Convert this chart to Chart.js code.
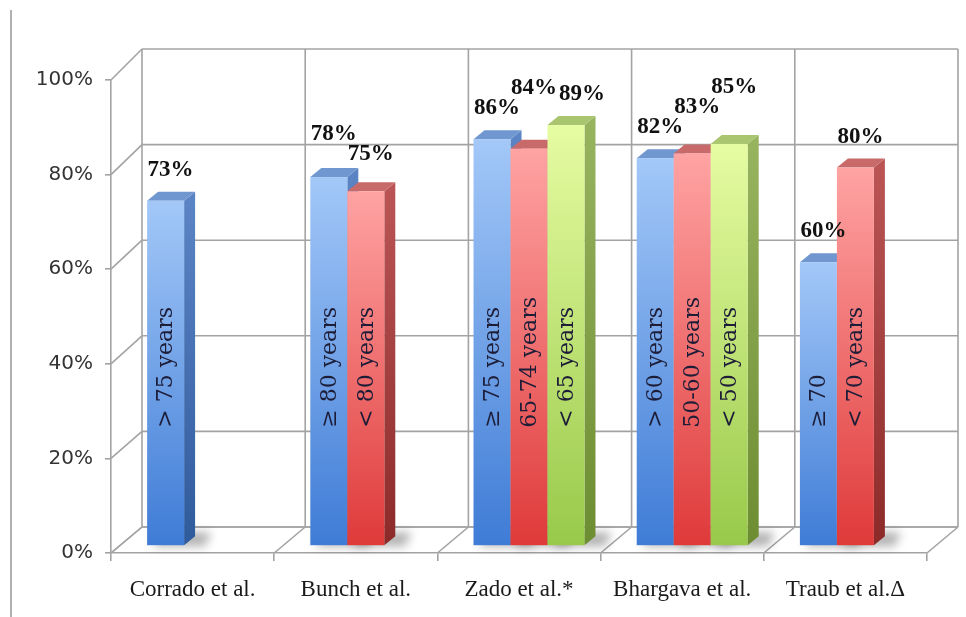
<!DOCTYPE html>
<html>
<head>
<meta charset="utf-8">
<script src="https://cdn.jsdelivr.net/npm/chart.js@4"></script>
<style>
  body { margin: 0; background: #fff; }
  #wrap { width: 966px; height: 617px; }
</style>
</head>
<body>
<div id="wrap"><canvas id="ageChart" width="966" height="617"></canvas></div>
<script>
const categories = ['Corrado et al.', 'Bunch et al.', 'Zado et al.*', 'Bhargava et al.', 'Traub et al.Δ'];
const oldestGroup = [73, 78, 86, 82, 60];
const middleGroup = [null, 75, 84, 83, 80];
const youngestGroup = [null, null, 89, 85, null];
const oldestLabels = ['> 75 years', '≥ 80 years', '≥ 75 years', '> 60 years', '≥ 70'];
const middleLabels = [null, '< 80 years', '65-74 years', '50-60 years', '< 70 years'];
const youngestLabels = [null, null, '< 65 years', '< 50 years', null];
const yTicks = [0, 20, 40, 60, 80, 100];

const barLabels = [oldestLabels, middleLabels, youngestLabels];

// face colours: [front top, front bottom, side top, side bottom, top face]
const palette = [
  ['#a3c8f8', '#3f7cd6', '#5a84c4', '#2f5a9c', '#7197d0'],
  ['#ffa3a3', '#df3a3a', '#bb5555', '#8c2a2a', '#c96a6a'],
  ['#e6fca2', '#98c94a', '#97b35e', '#6d8d32', '#aac56f']
];

const GRID = '#a3a3a3';
const BAR_DX = 10, BAR_DY = -7;   // bars sit a bit behind the front plane
const SIDE_DX = 11, SIDE_DY = 9;  // depth of each bar

// point on the back wall for a point on the front plane
function toBack(area, x, y) {
  return { x: x + 31, y: y - 26 - (area.bottom - y) * 0.0106 };
}

function line(ctx, a, b) {
  ctx.beginPath();
  ctx.moveTo(a.x, a.y);
  ctx.lineTo(b.x, b.y);
  ctx.stroke();
}

function poly(ctx, pts, fill) {
  ctx.beginPath();
  ctx.moveTo(pts[0][0], pts[0][1]);
  for (let i = 1; i < pts.length; i++) ctx.lineTo(pts[i][0], pts[i][1]);
  ctx.closePath();
  ctx.fillStyle = fill;
  ctx.fill();
}

const box3d = {
  id: 'box3d',
  beforeDraw(chart) {
    const ctx = chart.ctx;
    ctx.save();
    ctx.fillStyle = '#fff';
    ctx.fillRect(0, 0, chart.width, chart.height);
    // slide border on the left
    ctx.strokeStyle = '#b0b0b0';
    ctx.lineWidth = 2;
    line(ctx, { x: 11, y: 10 }, { x: 11, y: chart.height });
    ctx.restore();
  },
  beforeDatasetsDraw(chart) {
    const ctx = chart.ctx, area = chart.chartArea;
    const ys = chart.scales.y;
    const n = categories.length;
    const step = (area.right - area.left) / n;
    ctx.save();
    ctx.strokeStyle = GRID;
    ctx.lineWidth = 1.6;
    // floor
    line(ctx, toBack(area, area.left, area.bottom), toBack(area, area.right, area.bottom));
    for (let i = 0; i <= n; i++) {
      const bx = area.left + i * step;
      line(ctx, { x: bx, y: area.bottom }, toBack(area, bx, area.bottom));
      // back wall verticals
      line(ctx, toBack(area, bx, area.bottom), toBack(area, bx, area.top));
    }
    // back wall horizontals and left wall diagonals
    yTicks.forEach(v => {
      const py = ys.getPixelForValue(v);
      line(ctx, toBack(area, area.left, py), toBack(area, area.right, py));
      line(ctx, { x: area.left, y: py }, toBack(area, area.left, py));
    });
    ctx.restore();
  },
  afterDatasetsDraw(chart) {
    const ctx = chart.ctx;
    const bars = [];
    chart.data.datasets.forEach((ds, d) => {
      const meta = chart.getDatasetMeta(d);
      meta.data.forEach((el, i) => {
        if (ds.data[i] == null) return;
        const p = el.getProps(['x', 'y', 'base', 'width'], true);
        bars.push({
          d, i, value: ds.data[i],
          left: p.x - p.width / 2 + BAR_DX,
          right: p.x + p.width / 2 + BAR_DX,
          top: p.y + BAR_DY,
          bottom: p.base + BAR_DY
        });
      });
    });
    bars.sort((a, b) => a.left - b.left);

    ctx.save();
    // soft shadows on the floor
    ctx.filter = 'blur(5px)';
    bars.forEach(b => {
      poly(ctx, [
        [b.left + 4, b.bottom + 1], [b.right + SIDE_DX + 10, b.bottom + 1],
        [b.right + SIDE_DX + 16, b.bottom - SIDE_DY - 4], [b.left + SIDE_DX + 6, b.bottom - SIDE_DY - 4]
      ], 'rgba(0,0,0,0.30)');
    });
    ctx.filter = 'none';

    bars.forEach(b => {
      const c = palette[b.d];
      // side face
      const sg = ctx.createLinearGradient(0, b.top, 0, b.bottom);
      sg.addColorStop(0, c[2]);
      sg.addColorStop(1, c[3]);
      poly(ctx, [
        [b.right, b.top], [b.right + SIDE_DX, b.top - SIDE_DY],
        [b.right + SIDE_DX, b.bottom - SIDE_DY], [b.right, b.bottom]
      ], sg);
      // top face
      poly(ctx, [
        [b.left, b.top], [b.right, b.top],
        [b.right + SIDE_DX, b.top - SIDE_DY], [b.left + SIDE_DX, b.top - SIDE_DY]
      ], c[4]);
      // front face
      const fg = ctx.createLinearGradient(0, b.top, 0, b.bottom);
      fg.addColorStop(0, c[0]);
      fg.addColorStop(1, c[1]);
      ctx.fillStyle = fg;
      ctx.fillRect(b.left, b.top, b.right - b.left, b.bottom - b.top);
    });

    // age group text inside bars
    const ys = chart.scales.y;
    const anchorY = ys.getPixelForValue(25) + BAR_DY;
    ctx.font = '22px "DejaVu Serif"';
    ctx.fillStyle = '#1d1d38';
    ctx.textAlign = 'left';
    ctx.textBaseline = 'middle';
    bars.forEach(b => {
      const txt = barLabels[b.d][b.i];
      if (!txt) return;
      ctx.save();
      ctx.translate((b.left + b.right) / 2 + 1, anchorY);
      ctx.rotate(-Math.PI / 2);
      ctx.fillText(txt, 0, 0);
      ctx.restore();
    });

    // value labels above bars, moved apart when they collide
    ctx.font = 'bold 23px "Liberation Serif"';
    ctx.fillStyle = '#111';
    ctx.textAlign = 'center';
    ctx.textBaseline = 'middle';
    const H = 17;
    const labels = [];
    const lastInGroup = {};
    bars.forEach(b => {
      const txt = b.value + '%';
      const w = ctx.measureText(txt).width;
      const lab = { txt, w, cx: (b.left + b.right) / 2 + 5, cy: b.top - SIDE_DY - 22, value: b.value };
      const prev = lastInGroup[b.i];
      if (prev) {
        const hOver = Math.min(prev.cx + prev.w / 2, lab.cx + lab.w / 2) - Math.max(prev.cx - prev.w / 2, lab.cx - lab.w / 2);
        const vOver = H - Math.abs(prev.cy - lab.cy);
        if (hOver > 0 && vOver > 0) {
          const diff = lab.value - prev.value;
          if (diff >= 5) {
            lab.cx += hOver + 2;
          } else if (diff <= -3) {
            prev.cy -= 12;
            lab.cy = prev.cy + 20;
          } else {
            lab.cy = prev.cy - 20;
          }
        }
      }
      labels.push(lab);
      lastInGroup[b.i] = lab;
    });
    labels.forEach(l => ctx.fillText(l.txt, l.cx, l.cy));
    ctx.restore();
  }
};

new Chart(document.getElementById('ageChart').getContext('2d'), {
  type: 'bar',
  data: {
    labels: categories,
    datasets: [
      { label: 'Oldest', data: oldestGroup, backgroundColor: 'rgba(0,0,0,0)' },
      { label: 'Middle', data: middleGroup, backgroundColor: 'rgba(0,0,0,0)' },
      { label: 'Youngest', data: youngestGroup, backgroundColor: 'rgba(0,0,0,0)' }
    ]
  },
  options: {
    responsive: false,
    animation: false,
    devicePixelRatio: 1,
    layout: { padding: { top: 80, right: 39, left: 0, bottom: 0 } },
    datasets: { bar: { barPercentage: 1, categoryPercentage: 0.68 } },
    plugins: { legend: { display: false }, tooltip: { enabled: false } },
    scales: {
      x: {
        grid: { offset: true, drawOnChartArea: false, tickLength: 8, color: GRID, lineWidth: 1.6 },
        border: { color: GRID, width: 1.6 },
        ticks: { font: { family: 'Liberation Serif', size: 23 }, color: '#1a1a1a', padding: 15, maxRotation: 0, autoSkip: false },
        afterFit(s) { s.height = 64; }
      },
      y: {
        min: 0,
        max: 100,
        afterBuildTicks(s) { s.ticks = yTicks.map(v => ({ value: v })); },
        grid: { drawOnChartArea: false, tickLength: 6, color: GRID, lineWidth: 1.6 },
        border: { color: GRID, width: 1.6 },
        ticks: { font: { family: 'DejaVu Sans', size: 20 }, color: '#333', padding: 12, callback: v => v + '%' },
        afterFit(s) { s.width = 111; }
      }
    }
  },
  plugins: [box3d]
});
</script>
</body>
</html>
